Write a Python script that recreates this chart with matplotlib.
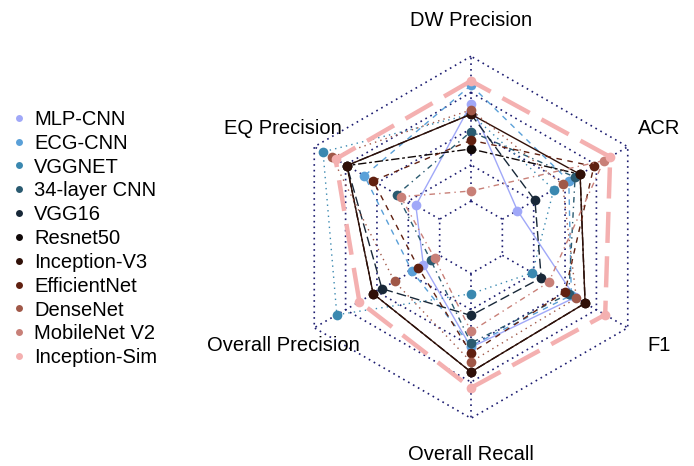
import numpy as np
import matplotlib.pyplot as plt
from matplotlib.lines import Line2D

plt.rcParams['font.family'] = ['Liberation Sans', 'DejaVu Sans']

# metrics, in drawing order (top, then counter-clockwise)
metrics = ["DW Precision", "EQ Precision", "Overall Precision",
           "Overall Recall", "F1", "ACR"]

models = ["MLP-CNN", "ECG-CNN", "VGGNET", "34-layer CNN", "VGG16", "Resnet50",
          "Inception-V3", "EfficientNet", "DenseNet", "MobileNet V2", "Inception-Sim"]

# scores scaled 0..1 between the inner and outer ring
mlp_cnn       = [0.67, 0.19, 0.13, 0.51, 0.58, 0.12]
ecg_cnn       = [0.80, 0.60, 0.22, 0.50, 0.55, 0.53]
vggnet        = [0.60, 0.93, 0.82, 0.14, 0.24, 0.41]
cnn34         = [0.48, 0.34, 0.07, 0.48, 0.53, 0.58]
vgg16         = [0.60, 0.74, 0.46, 0.29, 0.31, 0.26]
resnet50      = [0.36, 0.74, 0.53, 0.68, 0.66, 0.62]
inception_v3  = [0.60, 0.74, 0.53, 0.68, 0.66, 0.62]
efficientnet  = [0.42, 0.53, 0.17, 0.55, 0.50, 0.73]
densenet      = [0.63, 0.86, 0.36, 0.61, 0.59, 0.48]
mobilenet_v2  = [0.07, 0.31, 0.04, 0.40, 0.37, 0.81]
inception_sim = [0.83, 0.83, 0.64, 0.79, 0.82, 0.86]

scores = [mlp_cnn, ecg_cnn, vggnet, cnn34, vgg16, resnet50,
          inception_v3, efficientnet, densenet, mobilenet_v2, inception_sim]

colors = ["#a0a8f8", "#5aa0d8", "#3a88b0", "#2a5a70", "#182838", "#100808",
          "#301008", "#602010", "#a05848", "#c88078", "#f4b0b0"]

# R style line types: solid, dashed, dotted, dotdash, longdash, twodash
ltys = [None, (4, 4), (1, 3), (1, 3, 4, 3), (7, 3), (2, 2, 6, 2)]

seg = 4
angles = np.deg2rad(90 + 60 * np.arange(len(metrics)))


def to_xy(vals):
    r = (1 + seg * np.asarray(vals)) / (seg + 1)
    x = r * np.cos(angles)
    y = r * np.sin(angles)
    return np.append(x, x[0]), np.append(y, y[0])


fig = plt.figure(figsize=(6.94, 4.66), dpi=100)
ax = fig.add_axes([0, 0, 1, 1])
ax.set_xlim(-471 / 181, (694 - 471) / 181)
ax.set_ylim(-(466 - 237.3) / 181, 237.3 / 181)
ax.set_aspect('equal')
ax.axis('off')

# grid rings and spokes
for k in range(1, seg + 2):
    gx, gy = to_xy(np.full(len(metrics), (k - 1) / seg))
    ax.plot(gx, gy, color="#1c1c70", lw=1.2, dashes=(1, 2.4), zorder=1)
r0 = 1 / (seg + 1)
for a in angles:
    ax.plot([r0 * np.cos(a), np.cos(a)], [r0 * np.sin(a), np.sin(a)],
            color="#1c1c70", lw=1.2, dashes=(1, 2.4), zorder=1)

# series
for i, (name, vals) in enumerate(zip(models, scores)):
    x, y = to_xy(vals)
    lw = 3.2 if name == "Inception-Sim" else 1.0
    ln, = ax.plot(x, y, color=colors[i], lw=lw, zorder=2 + i)
    d = ltys[i % len(ltys)]
    if d is not None:
        ln.set_dashes(d)
    ax.plot(x[:-1], y[:-1], 'o', color=colors[i], ms=7, mec='none', zorder=2 + i)

# axis labels
for a, lab in zip(angles, metrics):
    ax.text(1.2 * np.cos(a), 1.2 * np.sin(a), lab, ha='center', va='center',
            fontsize=14.5)

handles = [Line2D([], [], ls='none', marker='o', ms=5, mec='none', color=c)
           for c in colors]
fig.legend(handles, models, loc='upper left', bbox_to_anchor=(0.0, 0.788),
           frameon=False, fontsize=14.5, handlelength=0.8, handletextpad=0.35,
           labelspacing=0.24, borderpad=0.3, borderaxespad=0.25)

fig.savefig("out.png", dpi=100)
